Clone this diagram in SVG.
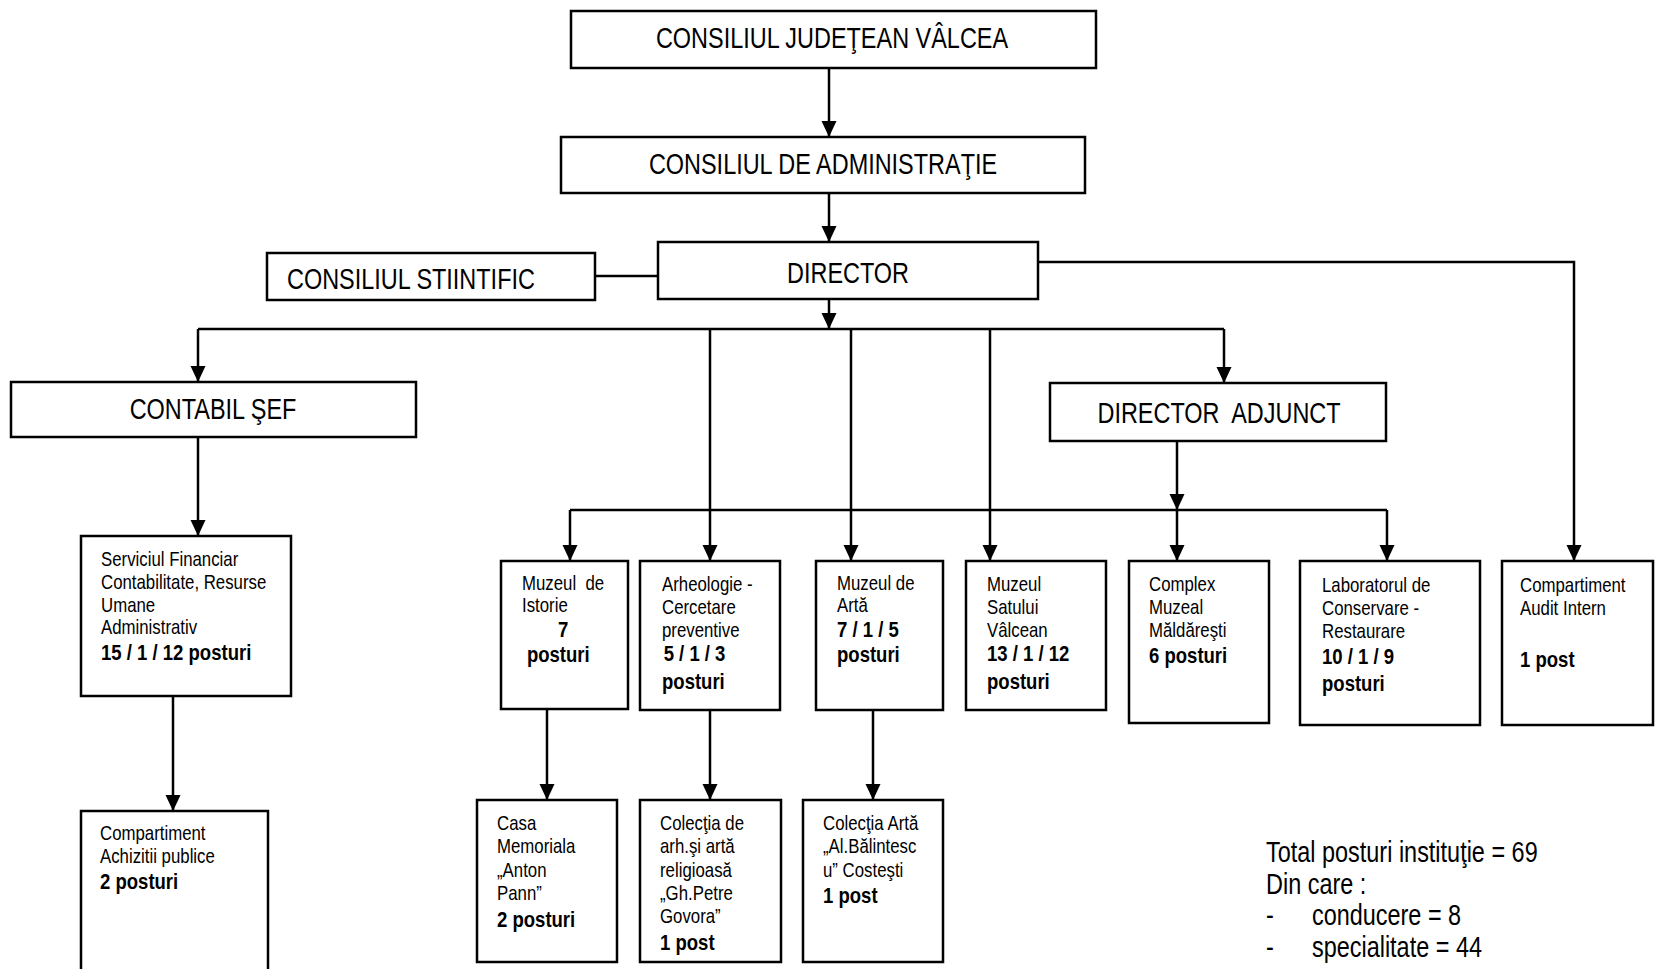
<svg xmlns="http://www.w3.org/2000/svg" width="1655" height="969" viewBox="0 0 1655 969">
<style>
.box{fill:#fff;stroke:#000;stroke-width:2.5}
text{font-family:"Liberation Sans",Arial,sans-serif;fill:#000}
.big{font-size:28.6px}
.mid{text-anchor:middle}
.sm{font-size:20.5px}
.b{font-weight:bold;font-size:22.6px}
.tot{font-size:28.6px}
.conn path{fill:none;stroke:#000;stroke-width:2.5}
</style>
<defs>
<marker id="arr" viewBox="0 0 16 16" refX="16" refY="8" markerWidth="16" markerHeight="16" markerUnits="userSpaceOnUse" orient="auto">
<path d="M0,0.5 L16,8 L0,15.5 z" fill="#000"/>
</marker>
</defs>
<rect width="1655" height="969" fill="#fff"/>

<g class="conn">
<path d="M829,68 V137" marker-end="url(#arr)"/>
<path d="M829,193 V242" marker-end="url(#arr)"/>
<path d="M595,276 H658"/>
<path d="M1038,262 H1574 V561" marker-end="url(#arr)"/>
<path d="M829,299 V329" marker-end="url(#arr)"/>
<path d="M198,329 H1224"/>
<path d="M198,329 V382" marker-end="url(#arr)"/>
<path d="M1224,329 V383" marker-end="url(#arr)"/>
<path d="M710,329 V561" marker-end="url(#arr)"/>
<path d="M851,329 V561" marker-end="url(#arr)"/>
<path d="M990,329 V561" marker-end="url(#arr)"/>
<path d="M198,437 V536" marker-end="url(#arr)"/>
<path d="M173,696 V811" marker-end="url(#arr)"/>
<path d="M1177,441 V510" marker-end="url(#arr)"/>
<path d="M570,510 H1387"/>
<path d="M570,510 V561" marker-end="url(#arr)"/>
<path d="M1177,510 V561" marker-end="url(#arr)"/>
<path d="M1387,510 V561" marker-end="url(#arr)"/>
<path d="M547,709 V800" marker-end="url(#arr)"/>
<path d="M710,710 V800" marker-end="url(#arr)"/>
<path d="M873,710 V800" marker-end="url(#arr)"/>
</g>

<g id="consiliul-judetean">
<rect class="box" x="571" y="11" width="525" height="57"/>
<text class="big mid" transform="translate(832,48) scale(0.82,1)">CONSILIUL JUDEŢEAN VÂLCEA</text>
</g>
<g id="consiliul-administratie">
<rect class="box" x="561" y="137" width="524" height="56"/>
<text class="big mid" transform="translate(823,174) scale(0.82,1)">CONSILIUL DE ADMINISTRAŢIE</text>
</g>
<g id="director">
<rect class="box" x="658" y="242" width="380" height="57"/>
<text class="big mid" transform="translate(848,283) scale(0.82,1)">DIRECTOR</text>
</g>
<g id="consiliul-stiintific">
<rect class="box" x="267" y="253" width="328" height="47"/>
<text class="big" transform="translate(287,289) scale(0.82,1)">CONSILIUL STIINTIFIC</text>
</g>
<g id="contabil-sef">
<rect class="box" x="11" y="382" width="405" height="55"/>
<text class="big mid" transform="translate(213,419) scale(0.82,1)">CONTABIL ŞEF</text>
</g>
<g id="director-adjunct">
<rect class="box" x="1050" y="383" width="336" height="58"/>
<text class="big mid" transform="translate(1219,423) scale(0.82,1)">DIRECTOR&#160; ADJUNCT</text>
</g>

<g id="serviciul-financiar">
<rect class="box" x="81" y="536" width="210" height="160"/>
<text transform="translate(101,566) scale(0.82,1)"><tspan class="sm" x="0" y="0">Serviciul Financiar</tspan><tspan class="sm" x="0" y="23">Contabilitate, Resurse</tspan><tspan class="sm" x="0" y="46">Umane</tspan><tspan class="sm" x="0" y="68">Administrativ</tspan><tspan class="b" x="0" y="94">15 / 1 / 12 posturi</tspan></text>
</g>
<g id="compartiment-achizitii">
<rect class="box" x="81" y="811" width="187" height="170"/>
<text transform="translate(100,840) scale(0.82,1)"><tspan class="sm" x="0" y="0">Compartiment</tspan><tspan class="sm" x="0" y="23">Achizitii publice</tspan><tspan class="b" x="0" y="49">2 posturi</tspan></text>
</g>

<g id="muzeul-istorie">
<rect class="box" x="501" y="561" width="127" height="148"/>
<text transform="translate(522,590) scale(0.82,1)"><tspan class="sm" x="0" y="0">Muzeul&#160; de</tspan><tspan class="sm" x="0" y="22">Istorie</tspan><tspan class="b" x="44" y="47">7</tspan><tspan class="b" x="6" y="72">posturi</tspan></text>
</g>
<g id="arheologie">
<rect class="box" x="640" y="561" width="140" height="149"/>
<text transform="translate(662,591) scale(0.82,1)"><tspan class="sm" x="0" y="0">Arheologie -</tspan><tspan class="sm" x="0" y="23">Cercetare</tspan><tspan class="sm" x="0" y="46">preventive</tspan><tspan class="b" x="2" y="70">5 / 1 / 3</tspan><tspan class="b" x="0" y="98">posturi</tspan></text>
</g>
<g id="muzeul-arta">
<rect class="box" x="816" y="561" width="127" height="149"/>
<text transform="translate(837,590) scale(0.82,1)"><tspan class="sm" x="0" y="0">Muzeul de</tspan><tspan class="sm" x="0" y="22">Artă</tspan><tspan class="b" x="0" y="47">7 / 1 / 5</tspan><tspan class="b" x="0" y="72">posturi</tspan></text>
</g>
<g id="muzeul-satului">
<rect class="box" x="966" y="561" width="140" height="149"/>
<text transform="translate(987,591) scale(0.82,1)"><tspan class="sm" x="0" y="0">Muzeul</tspan><tspan class="sm" x="0" y="23">Satului</tspan><tspan class="sm" x="0" y="46">Vâlcean</tspan><tspan class="b" x="0" y="70">13 / 1 / 12</tspan><tspan class="b" x="0" y="98">posturi</tspan></text>
</g>
<g id="complex-muzeal">
<rect class="box" x="1129" y="561" width="140" height="162"/>
<text transform="translate(1149,591) scale(0.82,1)"><tspan class="sm" x="0" y="0">Complex</tspan><tspan class="sm" x="0" y="23">Muzeal</tspan><tspan class="sm" x="0" y="46">Măldăreşti</tspan><tspan class="b" x="0" y="72">6 posturi</tspan></text>
</g>
<g id="laborator">
<rect class="box" x="1300" y="561" width="180" height="164"/>
<text transform="translate(1322,592) scale(0.82,1)"><tspan class="sm" x="0" y="0">Laboratorul de</tspan><tspan class="sm" x="0" y="23">Conservare -</tspan><tspan class="sm" x="0" y="46">Restaurare</tspan><tspan class="b" x="0" y="72">10 / 1 / 9</tspan><tspan class="b" x="0" y="99">posturi</tspan></text>
</g>
<g id="audit-intern">
<rect class="box" x="1502" y="561" width="151" height="164"/>
<text transform="translate(1520,592) scale(0.82,1)"><tspan class="sm" x="0" y="0">Compartiment</tspan><tspan class="sm" x="0" y="23">Audit Intern</tspan><tspan class="b" x="0" y="75">1 post</tspan></text>
</g>

<g id="casa-memoriala">
<rect class="box" x="477" y="800" width="140" height="162"/>
<text transform="translate(497,830) scale(0.82,1)"><tspan class="sm" x="0" y="0">Casa</tspan><tspan class="sm" x="0" y="23">Memoriala</tspan><tspan class="sm" x="0" y="47">„Anton</tspan><tspan class="sm" x="0" y="70">Pann”</tspan><tspan class="b" x="0" y="97">2 posturi</tspan></text>
</g>
<g id="colectia-arheologie">
<rect class="box" x="640" y="800" width="141" height="162"/>
<text transform="translate(660,830) scale(0.82,1)"><tspan class="sm" x="0" y="0">Colecţia de</tspan><tspan class="sm" x="0" y="23">arh.şi artă</tspan><tspan class="sm" x="0" y="47">religioasă</tspan><tspan class="sm" x="0" y="70">„Gh.Petre</tspan><tspan class="sm" x="0" y="93">Govora”</tspan><tspan class="b" x="0" y="120">1 post</tspan></text>
</g>
<g id="colectia-arta">
<rect class="box" x="803" y="800" width="140" height="162"/>
<text transform="translate(823,830) scale(0.82,1)"><tspan class="sm" x="0" y="0">Colecţia Artă</tspan><tspan class="sm" x="0" y="23">„Al.Bălintesc</tspan><tspan class="sm" x="0" y="47">u” Costeşti</tspan><tspan class="b" x="0" y="73">1 post</tspan></text>
</g>

<g id="total">
<text class="tot" transform="translate(1266,862) scale(0.82,1)"><tspan x="0" y="0">Total posturi instituţie = 69</tspan><tspan x="0" y="32">Din care :</tspan><tspan x="0" y="63">-</tspan><tspan x="56" y="63">conducere = 8</tspan><tspan x="0" y="95">-</tspan><tspan x="56" y="95">specialitate = 44</tspan></text>
</g>
</svg>
